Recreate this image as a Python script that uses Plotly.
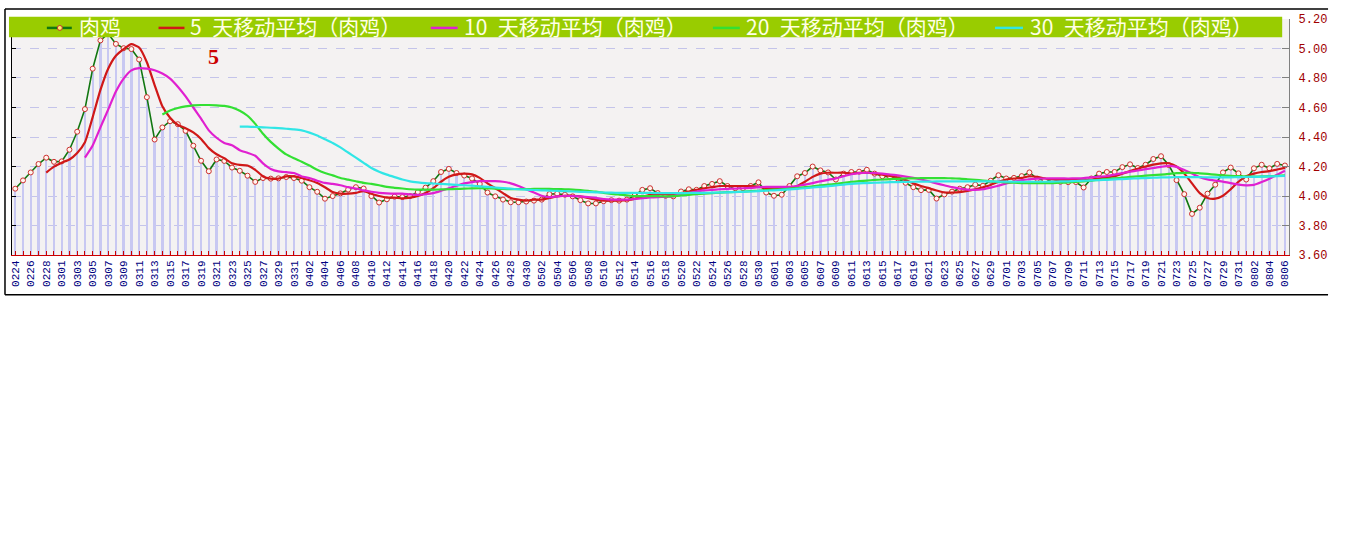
import plotly.graph_objects as go

W, H = 1346, 541

DATES = ("0224 0225 0226 0227 0228 0229 "
         "0301 0302 0303 0304 0305 0306 0307 0308 0309 0310 0311 0312 0313 0314 0315 0316 "
         "0317 0318 0319 0320 0321 0322 0323 0324 0325 0326 0327 0328 0329 0330 0331 "
         "0401 0402 0403 0404 0405 0406 0407 0408 0409 0410 0411 0412 0413 0414 0415 0416 "
         "0417 0418 0419 0420 0421 0422 0423 0424 0425 0426 0427 0428 0429 0430 "
         "0501 0502 0503 0504 0505 0506 0507 0508 0509 0510 0511 0512 0513 0514 0515 0516 "
         "0517 0518 0519 0520 0521 0522 0523 0524 0525 0526 0527 0528 0529 0530 0531 "
         "0601 0602 0603 0604 0605 0606 0607 0608 0609 0610 0611 0612 0613 0614 0615 0616 "
         "0617 0618 0619 0620 0621 0622 0623 0624 0625 0626 0627 0628 0629 0630 "
         "0701 0702 0703 0704 0705 0706 0707 0708 0709 0710 0711 0712 0713 0714 0715 0716 "
         "0717 0718 0719 0720 0721 0722 0723 0724 0725 0726 0727 0728 0729 0730 0731 "
         "0801 0802 0803 0804 0805 0806").split()

RAW = [4.05, 4.106, 4.16, 4.217, 4.26, 4.232, 4.235, 4.314, 4.436, 4.589,
       4.863, 5.055, 5.10, 5.031, 5.002, 4.996, 4.925, 4.67, 4.383, 4.465,
       4.507, 4.487, 4.442, 4.341, 4.239, 4.168, 4.248, 4.238, 4.193, 4.171,
       4.138, 4.096, 4.122, 4.118, 4.12, 4.129, 4.122, 4.104, 4.06, 4.029,
       3.982, 4.0, 4.018, 4.044, 4.06, 4.051, 4.0, 3.956, 3.978, 3.996,
       3.993, 4.0, 4.027, 4.057, 4.101, 4.163, 4.184, 4.156, 4.139, 4.119,
       4.082, 4.024, 3.998, 3.976, 3.958, 3.958, 3.963, 3.969, 3.976, 4.013,
       4.016, 4.009, 3.998, 3.972, 3.95, 3.95, 3.965, 3.972, 3.969, 3.976,
       4.002, 4.042, 4.053, 4.02, 4.002, 3.998, 4.031, 4.046, 4.042, 4.068,
       4.082, 4.101, 4.068, 4.053, 4.053, 4.068, 4.093, 4.024, 4.002, 4.009,
       4.068, 4.134, 4.156, 4.2, 4.174, 4.16, 4.112, 4.152, 4.163, 4.165,
       4.178, 4.152, 4.134, 4.13, 4.119, 4.09, 4.06, 4.04, 4.042, 3.983,
       4.011, 4.03, 4.05, 4.06, 4.077, 4.07, 4.104, 4.141, 4.119, 4.123,
       4.135, 4.16, 4.117, 4.105, 4.102, 4.097, 4.094, 4.095, 4.058, 4.119,
       4.152, 4.163, 4.163, 4.196, 4.215, 4.19, 4.212, 4.251, 4.27, 4.21,
       4.108, 4.013, 3.879, 3.921, 4.016, 4.077, 4.16, 4.193, 4.154, 4.112,
       4.188, 4.212, 4.188, 4.218, 4.207]

MA5 = [4.159, 4.199, 4.226, 4.248, 4.292, 4.365, 4.535, 4.719, 4.863, 4.951,
       4.996, 5.029, 5.007, 4.907, 4.752, 4.608, 4.531, 4.482, 4.46, 4.431,
       4.387, 4.325, 4.283, 4.256, 4.222, 4.211, 4.207, 4.178, 4.133, 4.118,
       4.118, 4.133, 4.133, 4.122, 4.107, 4.089, 4.06, 4.027, 4.016, 4.016,
       4.022, 4.033, 4.016, 4.0, 3.989, 3.989, 3.984, 3.989, 4.0, 4.02,
       4.053, 4.097, 4.13, 4.147, 4.152, 4.147, 4.123, 4.086, 4.053, 4.02,
       3.987, 3.976, 3.969, 3.976, 3.976, 3.987, 3.998, 4.002, 4.002, 3.998,
       3.987, 3.976, 3.969, 3.969, 3.969, 3.972, 3.98, 3.995, 4.008, 4.015,
       4.012, 4.01, 4.02, 4.031, 4.042, 4.053, 4.06, 4.068, 4.068, 4.068,
       4.068, 4.068, 4.064, 4.053, 4.053, 4.053, 4.053, 4.068, 4.097, 4.13,
       4.152, 4.158, 4.158, 4.158, 4.152, 4.158, 4.158, 4.152, 4.145, 4.136,
       4.125, 4.108, 4.086, 4.068, 4.053, 4.038, 4.024, 4.024, 4.027, 4.035,
       4.046, 4.06, 4.075, 4.097, 4.112, 4.119, 4.123, 4.134, 4.13, 4.119,
       4.112, 4.108, 4.108, 4.108, 4.108, 4.112, 4.119, 4.125, 4.134, 4.152,
       4.169, 4.185, 4.2, 4.213, 4.222, 4.222, 4.2, 4.152, 4.086, 4.02,
       3.987, 3.982, 4.002, 4.046, 4.097, 4.134, 4.152, 4.163, 4.169, 4.18,
       4.191]

MA10 = [4.261, 4.343, 4.465, 4.586, 4.708, 4.796, 4.852, 4.867, 4.863, 4.852,
        4.83, 4.796, 4.741, 4.675, 4.6, 4.525, 4.445, 4.395, 4.36, 4.344,
        4.311, 4.293, 4.273, 4.222, 4.184, 4.167, 4.162, 4.156, 4.133, 4.122,
        4.104, 4.089, 4.082, 4.073, 4.06, 4.051, 4.038, 4.029, 4.022, 4.018,
        4.016, 4.016, 4.011, 4.008, 4.012, 4.02, 4.036, 4.053, 4.07, 4.086,
        4.095, 4.101, 4.101, 4.101, 4.097, 4.086, 4.068, 4.046, 4.024, 4.002,
        3.993, 3.998, 4.002, 4.0, 3.998, 3.993, 3.987, 3.98, 3.976, 3.976,
        3.976, 3.98, 3.985, 3.99, 3.993, 3.995, 3.998, 4.013, 4.02, 4.031,
        4.038, 4.042, 4.046, 4.049, 4.051, 4.053, 4.055, 4.06, 4.062, 4.062,
        4.062, 4.062, 4.068, 4.077, 4.088, 4.1, 4.11, 4.12, 4.135, 4.148,
        4.155, 4.158, 4.156, 4.152, 4.146, 4.14, 4.132, 4.123, 4.112, 4.1,
        4.086, 4.073, 4.06, 4.05, 4.044, 4.042, 4.046, 4.057, 4.07, 4.086,
        4.098, 4.108, 4.114, 4.118, 4.119, 4.12, 4.12, 4.119, 4.12, 4.122,
        4.127, 4.131, 4.136, 4.145, 4.155, 4.165, 4.173, 4.182, 4.19, 4.198,
        4.204, 4.198, 4.176, 4.152, 4.128, 4.113, 4.105, 4.098, 4.088, 4.078,
        4.073, 4.076, 4.095, 4.118, 4.145, 4.172]

MA20 = [4.553, 4.58, 4.597, 4.608, 4.615, 4.617, 4.617, 4.615, 4.611, 4.6,
        4.578, 4.544, 4.489, 4.422, 4.367, 4.322, 4.282, 4.256, 4.233, 4.207,
        4.178, 4.156, 4.14, 4.122, 4.111, 4.1, 4.089, 4.082, 4.073, 4.062,
        4.056, 4.051, 4.046, 4.044, 4.043, 4.043, 4.045, 4.046, 4.048, 4.05,
        4.052, 4.053, 4.052, 4.05, 4.048, 4.047, 4.047, 4.047, 4.048, 4.048,
        4.048, 4.047, 4.046, 4.044, 4.04, 4.035, 4.03, 4.022, 4.015, 4.01,
        4.005, 4.0, 4.0, 4.0, 3.999, 3.998, 4.0, 4.004, 4.008, 4.013,
        4.017, 4.02, 4.023, 4.026, 4.028, 4.03, 4.033, 4.036, 4.04, 4.043,
        4.046, 4.05, 4.054, 4.06, 4.066, 4.072, 4.077, 4.083, 4.09, 4.097,
        4.101, 4.105, 4.109, 4.112, 4.115, 4.117, 4.119, 4.12, 4.121, 4.122,
        4.122, 4.122, 4.12, 4.118, 4.114, 4.11, 4.105, 4.1, 4.096, 4.092,
        4.09, 4.088, 4.087, 4.087, 4.087, 4.088, 4.09, 4.092, 4.096, 4.1,
        4.105, 4.11, 4.115, 4.12, 4.125, 4.13, 4.134, 4.138, 4.142, 4.145,
        4.15, 4.155, 4.157, 4.158, 4.154, 4.15, 4.145, 4.14, 4.137, 4.135,
        4.133, 4.132, 4.133, 4.135, 4.137, 4.14]

MA30 = [4.47, 4.47, 4.468, 4.466, 4.463, 4.46, 4.456, 4.452, 4.445, 4.43,
        4.41, 4.385, 4.36, 4.33, 4.295, 4.26, 4.225, 4.19, 4.165, 4.145,
        4.128, 4.112, 4.1, 4.093, 4.088, 4.085, 4.082, 4.079, 4.076, 4.073,
        4.07, 4.066, 4.062, 4.058, 4.054, 4.05, 4.046, 4.043, 4.041, 4.039,
        4.037, 4.035, 4.033, 4.031, 4.029, 4.027, 4.025, 4.024, 4.023, 4.022,
        4.022, 4.022, 4.021, 4.021, 4.02, 4.02, 4.02, 4.02, 4.021, 4.021,
        4.022, 4.023, 4.024, 4.025, 4.027, 4.029, 4.031, 4.033, 4.036, 4.039,
        4.042, 4.045, 4.049, 4.053, 4.058, 4.062, 4.067, 4.072, 4.078, 4.083,
        4.086, 4.088, 4.09, 4.092, 4.094, 4.095, 4.096, 4.097, 4.098, 4.098,
        4.099, 4.099, 4.099, 4.099, 4.099, 4.099, 4.099, 4.099, 4.098, 4.098,
        4.097, 4.097, 4.097, 4.097, 4.097, 4.098, 4.099, 4.1, 4.102, 4.104,
        4.106, 4.108, 4.11, 4.113, 4.115, 4.118, 4.12, 4.122, 4.124, 4.126,
        4.127, 4.128, 4.128, 4.128, 4.128, 4.127, 4.127, 4.127, 4.127, 4.128,
        4.129, 4.13, 4.131, 4.133, 4.135, 4.137]

Y_TICKS = [3.6, 3.8, 4.0, 4.2, 4.4, 4.6, 4.8, 5.0, 5.2]
Y_TICKTEXT = ["3.60", "3.80", "4.00", "4.20", "4.40", "4.60", "4.80", "5.00", "5.20"]

LEGEND = [
    ("肉鸡", "#117711"),
    ("5\u2002天移动平均（肉鸡）", "#D01818"),
    ("10\u2002天移动平均（肉鸡）", "#E020D0"),
    ("20\u2002天移动平均（肉鸡）", "#33E033"),
    ("30\u2002天移动平均（肉鸡）", "#30E6E6"),
]

N = len(DATES)
idx = list(range(N))


def tail_x(series):
    return idx[N - len(series):]


def px(x):
    return x / W


def py(y):
    return 1 - y / H


fig = go.Figure()

fig.add_trace(go.Bar(x=idx, y=RAW, width=0.3, marker=dict(color="#C8C8F2", line=dict(width=0)),
                     hoverinfo="skip"))
fig.add_trace(go.Scatter(x=idx, y=RAW, mode="lines+markers",
                         line=dict(color=LEGEND[0][1], width=1.6),
                         marker=dict(size=5, color="#FFF6EE", line=dict(color="#CC3030", width=1))))
for ser, (_, col) in zip([MA5, MA10, MA20, MA30], LEGEND[1:]):
    fig.add_trace(go.Scatter(x=tail_x(ser), y=ser, mode="lines",
                             line=dict(color=col, width=2.2, shape="spline", smoothing=0.5)))
# invisible trace to anchor left axis
fig.add_trace(go.Scatter(x=[idx[0]], y=[RAW[0]], yaxis="y2", mode="markers",
                         marker=dict(opacity=0), hoverinfo="skip"))

ticktext = [d if i % 2 == 0 else "" for i, d in enumerate(DATES)]

ydom = [py(255.7), py(13.3)]
fig.update_layout(
    width=W, height=H,
    margin=dict(l=0, r=0, t=0, b=0),
    paper_bgcolor="white",
    plot_bgcolor="#F4F2F2",
    showlegend=False,
    hovermode=False,
    bargap=0,
    xaxis=dict(
        domain=[px(10), px(1291)], range=[-0.425, 164.55],
        tickmode="array", tickvals=idx, ticktext=ticktext, tickangle=-90,
        ticks="inside", ticklen=4, tickcolor="#CC0000", tickwidth=1,
        showline=True, linecolor="#CC0000", linewidth=1,
        showgrid=False, zeroline=False,
        tickfont=dict(family="Liberation Mono", size=11, color="#000080"),
    ),
    yaxis=dict(
        domain=ydom, range=[3.6, 5.2], side="right",
        tickmode="array", tickvals=Y_TICKS, ticktext=Y_TICKTEXT,
        ticks="inside", ticklen=7, tickcolor="#808080",
        showline=True, linecolor="#808080", linewidth=1,
        showgrid=True, gridcolor="#C4C4EA", griddash="dash", gridwidth=1,
        zeroline=False, ticklabelstandoff=6,
        tickfont=dict(family="Liberation Mono", size=12, color="#A00000"),
    ),
    yaxis2=dict(
        overlaying="y", side="left", range=[3.6, 5.2],
        tickmode="array", tickvals=Y_TICKS, showticklabels=False,
        ticks="inside", ticklen=4, tickcolor="#000000",
        showline=True, linecolor="#000000", linewidth=1,
        showgrid=False, zeroline=False,
    ),
)

shapes = []
# legend bar
shapes.append(dict(type="rect", xref="paper", yref="paper", x0=px(7), x1=px(1284), y0=py(32), y1=py(11),
                   fillcolor="#99CC00", line=dict(width=0), layer="above"))
# frame
for (x0, y0, x1, y1) in [(3, 3, 1330, 3), (3, 3, 3, 296.5), (3, 296.5, 1330, 296.5)]:
    shapes.append(dict(type="line", xref="paper", yref="paper", x0=px(x0), y0=py(y0), x1=px(x1), y1=py(y1),
                       line=dict(color="black", width=1.5), layer="above"))

leg_pos = [(45, 70, 75), (157, 183, 187), (430, 457, 461), (713, 740, 744), (996, 1024, 1029)]
annotations = []
for (name, col), (l0, l1, tx) in zip(LEGEND, leg_pos):
    shapes.append(dict(type="line", xref="paper", yref="paper", x0=px(l0), x1=px(l1), y0=py(22.5), y1=py(22.5),
                       line=dict(color=col, width=2.5), layer="above"))
    annotations.append(dict(xref="paper", yref="paper", x=px(tx), y=py(20.5), text=name, showarrow=False,
                            xanchor="left", yanchor="middle",
                            font=dict(family="Noto Sans CJK SC", size=21, color="#FFFFE6")))
shapes.append(dict(type="circle", xref="paper", yref="paper", x0=px(55.5), x1=px(60.5), y0=py(25), y1=py(20),
                   fillcolor="#FFEE66", line=dict(color="#CC3030", width=1), layer="above"))

annotations.append(dict(xref="paper", yref="paper", x=px(212), y=py(52), text="<b>5</b>", showarrow=False,
                        xanchor="center", yanchor="middle",
                        font=dict(family="Liberation Serif", size=22, color="#CC0000")))

fig.update_layout(shapes=shapes, annotations=annotations)

fig.write_html("out.html",
               config={"displayModeBar": False, "staticPlot": True},
               post_script="document.body.style.margin='0';document.body.style.overflow='hidden';")
